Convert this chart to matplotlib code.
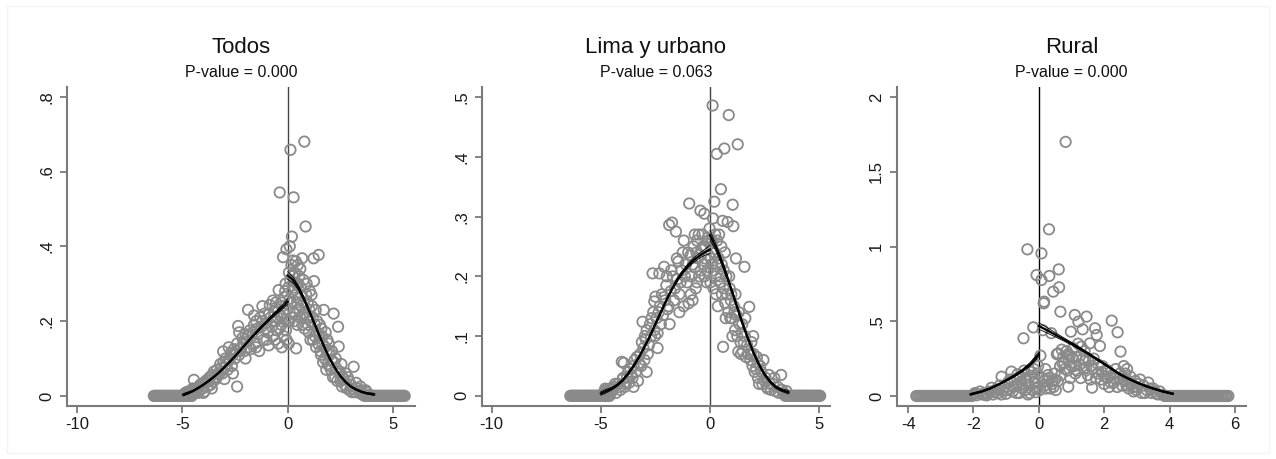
import matplotlib

matplotlib.use("Agg")
import matplotlib.pyplot as plt  # noqa: E402
from matplotlib.patches import Rectangle  # noqa: E402

plt.rcParams["font.family"] = ["Liberation Sans", "DejaVu Sans"]
plt.rcParams["axes.unicode_minus"] = False

# ---------------- data: Todos ----------------
todos_left = [
    (-4.95, 0.002), (-4.85, 0.008), (-4.75, 0.004), (-4.7, 0.012), (-4.6, 0.006),
    (-4.55, 0.015), (-4.45, 0.043), (-4.4, 0.01), (-4.3, 0.02), (-4.25, 0.008),
    (-4.15, 0.03), (-4.1, 0.018), (-4.0, 0.035), (-3.95, 0.012), (-3.85, 0.042),
    (-3.8, 0.025), (-3.7, 0.05), (-3.65, 0.03), (-3.55, 0.038), (-3.5, 0.065),
    (-3.4, 0.045), (-3.35, 0.07), (-3.25, 0.058), (-3.2, 0.085), (-3.1, 0.06),
    (-3.06, 0.119), (-3.0, 0.075), (-2.95, 0.1), (-2.85, 0.07), (-2.8, 0.095),
    (-2.7, 0.115), (-2.65, 0.08), (-2.55, 0.125), (-2.5, 0.1), (-2.4, 0.025),
    (-2.4, 0.14), (-2.35, 0.187), (-2.3, 0.11), (-2.2, 0.13), (-2.15, 0.155),
    (-2.05, 0.12), (-2.0, 0.165), (-1.95, 0.145), (-1.88, 0.23), (-1.8, 0.175),
    (-1.75, 0.125), (-1.7, 0.16), (-1.6, 0.19), (-1.55, 0.14), (-1.5, 0.2),
    (-1.4, 0.165), (-1.35, 0.12), (-1.3, 0.21), (-1.25, 0.185), (-1.15, 0.15),
    (-1.1, 0.22), (-1.0, 0.195), (-0.95, 0.17), (-0.9, 0.135), (-0.85, 0.243),
    (-0.8, 0.21), (-0.75, 0.185), (-0.7, 0.16), (-0.65, 0.225), (-0.6, 0.2),
    (-0.55, 0.25), (-0.5, 0.175), (-0.45, 0.14), (-0.43, 0.283), (-0.38, 0.544),
    (-0.35, 0.215), (-0.3, 0.19), (-0.25, 0.24), (-0.22, 0.371), (-0.2, 0.16),
    (-0.15, 0.265), (-0.1, 0.205), (-0.06, 0.392), (-0.05, 0.15), (-0.02, 0.23),
    (-4.9, 0.005), (-4.8, 0.01), (-4.65, 0.003), (-4.5, 0.02), (-4.35, 0.015),
    (-4.2, 0.025), (-4.05, 0.02), (-3.9, 0.035), (-3.75, 0.04), (-3.6, 0.055),
    (-3.45, 0.05), (-3.3, 0.06), (-3.15, 0.075), (-3.05, 0.09), (-2.9, 0.085),
    (-2.75, 0.1), (-2.6, 0.11), (-2.45, 0.12), (-2.25, 0.125), (-2.1, 0.14),
    (-1.9, 0.16), (-1.85, 0.13), (-1.65, 0.17), (-1.45, 0.18), (-1.2, 0.2),
    (-1.05, 0.18), (-0.88, 0.22), (-0.72, 0.2), (-0.58, 0.235), (-0.48, 0.21),
    (-0.4, 0.18), (-0.32, 0.25), (-0.18, 0.22), (-0.12, 0.28), (-0.08, 0.175),
    (-3.6, 0.02), (-2.6, 0.06), (-2.0, 0.1), (-1.5, 0.13), (-1.0, 0.15),
    (-0.6, 0.15), (-0.28, 0.13), (-4.0, 0.008), (-3.0, 0.045), (-2.8, 0.13),
    (-2.3, 0.17), (-1.6, 0.215), (-1.2, 0.24), (-0.7, 0.255), (-0.1, 0.3),
]
todos_right = [
    (0.03, 0.29), (0.05, 0.14), (0.08, 0.2), (0.1, 0.4), (0.12, 0.31),
    (0.13, 0.658), (0.15, 0.25), (0.18, 0.35), (0.2, 0.426), (0.22, 0.28),
    (0.25, 0.362), (0.28, 0.531), (0.3, 0.22), (0.33, 0.33), (0.36, 0.27),
    (0.4, 0.127), (0.42, 0.3), (0.45, 0.19), (0.48, 0.35), (0.52, 0.26),
    (0.55, 0.32), (0.58, 0.21), (0.62, 0.29), (0.65, 0.24), (0.68, 0.368),
    (0.72, 0.22), (0.75, 0.31), (0.79, 0.68), (0.8, 0.18), (0.85, 0.453),
    (0.88, 0.27), (0.92, 0.21), (0.95, 0.25), (1.0, 0.17), (1.05, 0.28),
    (1.1, 0.2), (1.15, 0.24), (1.2, 0.15), (1.23, 0.368), (1.25, 0.307),
    (1.3, 0.19), (1.35, 0.13), (1.4, 0.2), (1.47, 0.377), (1.5, 0.16),
    (1.55, 0.12), (1.6, 0.18), (1.65, 0.14), (1.71, 0.23), (1.75, 0.1),
    (1.8, 0.17), (1.85, 0.12), (1.9, 0.085), (1.95, 0.14), (2.0, 0.11),
    (2.05, 0.07), (2.1, 0.12), (2.18, 0.22), (2.2, 0.09), (2.25, 0.05),
    (2.3, 0.075), (2.39, 0.185), (2.42, 0.132), (2.45, 0.06), (2.5, 0.04),
    (2.55, 0.085), (2.6, 0.05), (2.7, 0.03), (2.75, 0.06), (2.8, 0.02),
    (2.9, 0.04), (2.95, 0.015), (3.0, 0.03), (3.1, 0.02), (3.13, 0.078),
    (3.2, 0.01), (3.3, 0.02), (3.4, 0.008), (3.5, 0.015), (3.6, 0.005),
    (3.75, 0.01), (3.9, 0.003),
    (0.02, 0.2), (0.06, 0.33), (0.1, 0.26), (0.17, 0.21), (0.24, 0.32),
    (0.3, 0.29), (0.35, 0.2), (0.38, 0.36), (0.44, 0.25), (0.5, 0.3),
    (0.56, 0.23), (0.6, 0.34), (0.66, 0.27), (0.7, 0.19), (0.77, 0.25),
    (0.83, 0.22), (0.9, 0.3), (0.97, 0.19), (1.03, 0.23), (1.08, 0.15),
    (1.13, 0.27), (1.18, 0.21), (1.28, 0.16), (1.33, 0.23), (1.38, 0.17),
    (1.43, 0.14), (1.53, 0.19), (1.58, 0.11), (1.63, 0.16), (1.68, 0.09),
    (1.78, 0.13), (1.83, 0.07), (1.88, 0.15), (1.98, 0.08), (2.08, 0.095),
    (2.15, 0.05), (2.28, 0.1), (2.35, 0.04), (2.48, 0.065), (2.58, 0.025),
    (2.65, 0.045), (2.85, 0.05), (3.05, 0.01), (3.25, 0.035), (3.45, 0.025),
    (3.55, 0.003), (3.7, 0.015),
]
todos_zero_x = [
    -6.35, -6.3, -6.25, -6.2, -6.15, -6.1, -6.05, -6.0, -5.95, -5.9,
    -5.85, -5.8, -5.75, -5.7, -5.65, -5.6, -5.55, -5.5, -5.45, -5.4,
    -5.35, -5.3, -5.25, -5.2, -5.15, -5.1, -5.05, -5.0, -4.95, -4.9,
    -4.85, -4.8, -4.75, -4.7, -4.65, -4.6, -4.55,
    3.65, 3.7, 3.75, 3.8, 3.85, 3.9, 3.95, 4.0, 4.05, 4.1,
    4.15, 4.2, 4.25, 4.3, 4.35, 4.4, 4.45, 4.5, 4.55, 4.6,
    4.65, 4.7, 4.75, 4.8, 4.85, 4.9, 4.95, 5.0, 5.05, 5.1,
    5.15, 5.2, 5.25, 5.3, 5.35, 5.4, 5.45, 5.5, 5.55,
]
todos_fit_left_x = [-4.96, -4.75, -4.5, -4.25, -4.0, -3.75, -3.5, -3.25, -3.0, -2.75, -2.5,
                    -2.25, -2.0, -1.75, -1.5, -1.25, -1.0, -0.75, -0.5, -0.25, 0.0]
todos_fit_left_y = [0.003, 0.007, 0.013, 0.021, 0.03, 0.04, 0.051, 0.063, 0.077, 0.091, 0.106,
                    0.122, 0.138, 0.154, 0.169, 0.184, 0.198, 0.212, 0.225, 0.238, 0.252]
todos_band_left = [0.003, 0.003, 0.002, 0.002, 0.002, 0.002, 0.002, 0.002, 0.002, 0.002, 0.002,
                   0.002, 0.002, 0.002, 0.003, 0.003, 0.003, 0.004, 0.005, 0.006, 0.008]
todos_fit_right_x = [0.0, 0.25, 0.5, 0.75, 1.0, 1.25, 1.5, 1.75, 2.0, 2.25, 2.5, 2.75,
                     3.0, 3.25, 3.5, 3.75, 4.1]
todos_fit_right_y = [0.322, 0.31, 0.29, 0.262, 0.23, 0.196, 0.162, 0.129, 0.099, 0.074, 0.053,
                     0.037, 0.025, 0.017, 0.011, 0.007, 0.004]
todos_band_right = [0.01, 0.008, 0.006, 0.005, 0.004, 0.004, 0.003, 0.003, 0.003, 0.002, 0.002,
                    0.002, 0.002, 0.002, 0.002, 0.002, 0.003]

# ---------------- data: Lima y urbano ----------------
lima_left = [
    (-4.95, 0.002), (-4.85, 0.006), (-4.75, 0.01), (-4.7, 0.004), (-4.6, 0.012),
    (-4.5, 0.007), (-4.4, 0.015), (-4.3, 0.005), (-4.2, 0.02), (-4.1, 0.01),
    (-4.04, 0.057), (-4.0, 0.028), (-3.95, 0.055), (-3.9, 0.015), (-3.8, 0.032),
    (-3.7, 0.022), (-3.65, 0.045), (-3.55, 0.03), (-3.5, 0.05), (-3.4, 0.04),
    (-3.35, 0.065), (-3.3, 0.025), (-3.2, 0.07), (-3.15, 0.05), (-3.09, 0.124),
    (-3.05, 0.08), (-3.0, 0.06), (-2.95, 0.095), (-2.9, 0.11), (-2.8, 0.085),
    (-2.75, 0.12), (-2.7, 0.1), (-2.63, 0.205), (-2.6, 0.14), (-2.55, 0.158),
    (-2.5, 0.166), (-2.45, 0.13), (-2.4, 0.105), (-2.32, 0.205), (-2.3, 0.15),
    (-2.2, 0.17), (-2.15, 0.135), (-2.1, 0.216), (-2.05, 0.16), (-2.0, 0.185),
    (-1.95, 0.145), (-1.87, 0.286), (-1.8, 0.175), (-1.74, 0.29), (-1.7, 0.2),
    (-1.65, 0.16), (-1.56, 0.275), (-1.5, 0.195), (-1.45, 0.225), (-1.4, 0.17),
    (-1.3, 0.21), (-1.25, 0.24), (-1.2, 0.15), (-1.1, 0.22), (-1.05, 0.19),
    (-0.95, 0.322), (-0.9, 0.235), (-0.85, 0.2), (-0.8, 0.16), (-0.75, 0.25),
    (-0.7, 0.215), (-0.65, 0.18), (-0.6, 0.26), (-0.55, 0.23), (-0.5, 0.2),
    (-0.44, 0.31), (-0.4, 0.245), (-0.35, 0.27), (-0.3, 0.22), (-0.26, 0.305),
    (-0.2, 0.25), (-0.15, 0.19), (-0.1, 0.265), (-0.05, 0.235), (-0.02, 0.28),
    (-4.9, 0.004), (-4.8, 0.012), (-4.65, 0.008), (-4.45, 0.01), (-4.35, 0.02),
    (-4.15, 0.015), (-3.98, 0.03), (-3.85, 0.02), (-3.75, 0.04), (-3.6, 0.035),
    (-3.45, 0.06), (-3.25, 0.055), (-3.12, 0.09), (-2.98, 0.1), (-2.85, 0.07),
    (-2.68, 0.13), (-2.52, 0.1), (-2.35, 0.14), (-2.25, 0.12), (-2.12, 0.165),
    (-1.98, 0.2), (-1.9, 0.15), (-1.78, 0.21), (-1.6, 0.18), (-1.52, 0.23),
    (-1.35, 0.19), (-1.15, 0.2), (-1.0, 0.24), (-0.88, 0.17), (-0.78, 0.22),
    (-0.62, 0.24), (-0.52, 0.27), (-0.42, 0.21), (-0.32, 0.25), (-0.22, 0.23),
    (-0.12, 0.21), (-0.08, 0.26), (-3.5, 0.015), (-2.9, 0.04), (-2.4, 0.08),
    (-1.85, 0.12), (-1.4, 0.14), (-0.98, 0.155), (-0.6, 0.19), (-0.25, 0.2),
    (-2.55, 0.11), (-1.2, 0.26), (-0.7, 0.27),
]
lima_right = [
    (0.02, 0.19), (0.05, 0.255), (0.08, 0.22), (0.12, 0.486), (0.14, 0.297),
    (0.16, 0.18), (0.2, 0.325), (0.22, 0.24), (0.26, 0.2), (0.31, 0.405),
    (0.33, 0.26), (0.36, 0.15), (0.4, 0.23), (0.45, 0.19), (0.5, 0.346),
    (0.52, 0.25), (0.55, 0.17), (0.58, 0.293), (0.6, 0.082), (0.63, 0.21),
    (0.66, 0.414), (0.7, 0.155), (0.75, 0.2), (0.81, 0.291), (0.84, 0.14),
    (0.86, 0.47), (0.9, 0.18), (0.95, 0.16), (1.0, 0.13), (1.04, 0.32),
    (1.07, 0.284), (1.1, 0.15), (1.15, 0.11), (1.19, 0.23), (1.22, 0.135),
    (1.27, 0.421), (1.3, 0.074), (1.35, 0.12), (1.4, 0.09), (1.45, 0.105),
    (1.5, 0.075), (1.58, 0.216), (1.6, 0.1), (1.65, 0.065), (1.7, 0.085),
    (1.8, 0.149), (1.85, 0.06), (1.9, 0.09), (1.95, 0.05), (2.0, 0.07),
    (2.1, 0.045), (2.15, 0.065), (2.2, 0.03), (2.3, 0.05), (2.4, 0.02),
    (2.45, 0.06), (2.5, 0.025), (2.6, 0.015), (2.7, 0.035), (2.8, 0.01),
    (2.9, 0.02), (3.0, 0.008), (3.1, 0.015), (3.26, 0.035), (3.35, 0.005),
    (3.5, 0.008),
    (0.04, 0.23), (0.1, 0.26), (0.18, 0.21), (0.24, 0.27), (0.28, 0.17),
    (0.35, 0.22), (0.42, 0.27), (0.48, 0.2), (0.54, 0.22), (0.62, 0.18),
    (0.68, 0.24), (0.72, 0.13), (0.78, 0.17), (0.88, 0.2), (0.93, 0.13),
    (0.98, 0.17), (1.03, 0.1), (1.12, 0.14), (1.17, 0.17), (1.25, 0.1),
    (1.32, 0.14), (1.42, 0.07), (1.48, 0.12), (1.55, 0.09), (1.62, 0.13),
    (1.75, 0.07), (1.88, 0.07), (1.98, 0.1), (2.05, 0.04), (2.18, 0.055),
    (2.25, 0.02), (2.35, 0.04), (2.55, 0.03), (2.65, 0.012), (2.75, 0.02),
    (2.95, 0.03), (3.15, 0.005), (3.3, 0.01),
]
lima_zero_x = [
    -6.4, -6.35, -6.3, -6.25, -6.2, -6.15, -6.1, -6.05, -6.0, -5.95,
    -5.9, -5.85, -5.8, -5.75, -5.7, -5.65, -5.6, -5.55, -5.5, -5.45,
    -5.4, -5.35, -5.3, -5.25, -5.2, -5.15, -5.1, -5.05, -5.0, -4.95,
    -4.9, -4.85, -4.8, -4.75, -4.7, -4.65, -4.6,
    3.45, 3.5, 3.55, 3.6, 3.65, 3.7, 3.75, 3.8, 3.85, 3.9,
    3.95, 4.0, 4.05, 4.1, 4.15, 4.2, 4.25, 4.3, 4.35, 4.4,
    4.45, 4.5, 4.55, 4.6, 4.65, 4.7, 4.75, 4.8, 4.85, 4.9,
    4.95, 5.0, 5.05,
]
lima_fit_left_x = [-5.0, -4.75, -4.5, -4.25, -4.0, -3.75, -3.5, -3.25, -3.0, -2.75, -2.5,
                   -2.25, -2.0, -1.75, -1.5, -1.25, -1.0, -0.75, -0.5, -0.25, 0.0]
lima_fit_left_y = [0.004, 0.008, 0.012, 0.018, 0.026, 0.037, 0.05, 0.065, 0.082, 0.1, 0.12,
                   0.14, 0.16, 0.178, 0.194, 0.207, 0.218, 0.227, 0.234, 0.24, 0.245]
lima_band_left = [0.003, 0.003, 0.002, 0.002, 0.002, 0.002, 0.002, 0.002, 0.002, 0.002, 0.002,
                  0.002, 0.002, 0.002, 0.003, 0.003, 0.003, 0.004, 0.004, 0.005, 0.007]
lima_fit_right_x = [0.0, 0.25, 0.5, 0.75, 1.0, 1.25, 1.5, 1.75, 2.0, 2.25, 2.5, 2.75,
                    3.0, 3.25, 3.6]
lima_fit_right_y = [0.269, 0.25, 0.228, 0.203, 0.176, 0.148, 0.12, 0.095, 0.072, 0.052, 0.036,
                    0.024, 0.015, 0.01, 0.006]
lima_band_right = [0.008, 0.006, 0.005, 0.004, 0.003, 0.003, 0.003, 0.002, 0.002, 0.002, 0.002,
                   0.002, 0.002, 0.002, 0.003]

# ---------------- data: Rural ----------------
rural_left = [
    (-2.0, 0.01), (-1.9, 0.005), (-1.8, 0.03), (-1.75, 0.012), (-1.65, 0.02),
    (-1.6, 0.004), (-1.5, 0.03), (-1.45, 0.055), (-1.4, 0.01), (-1.3, 0.045),
    (-1.25, 0.02), (-1.2, 0.07), (-1.14, 0.129), (-1.1, 0.035), (-1.05, 0.06),
    (-1.0, 0.015), (-0.95, 0.09), (-0.9, 0.05), (-0.84, 0.163), (-0.8, 0.03),
    (-0.75, 0.11), (-0.7, 0.07), (-0.65, 0.145), (-0.6, 0.02), (-0.55, 0.095),
    (-0.5, 0.05), (-0.47, 0.386), (-0.45, 0.17), (-0.4, 0.12), (-0.35, 0.981),
    (-0.33, 0.01), (-0.3, 0.075), (-0.25, 0.135), (-0.2, 0.04), (-0.17, 0.459),
    (-0.15, 0.18), (-0.12, 0.09), (-0.1, 0.025), (-0.07, 0.809), (-0.05, 0.15),
    (-0.03, 0.06),
    (-1.95, 0.02), (-1.7, 0.01), (-1.55, 0.015), (-1.35, 0.025), (-1.15, 0.01),
    (-0.98, 0.04), (-0.88, 0.11), (-0.78, 0.06), (-0.68, 0.02), (-0.58, 0.13),
    (-0.52, 0.08), (-0.42, 0.04), (-0.38, 0.1), (-0.28, 0.02), (-0.22, 0.16),
    (-0.13, 0.12), (-0.08, 0.05), (-0.02, 0.2),
]
rural_right = [
    (0.03, 0.04), (0.05, 0.27), (0.08, 0.954), (0.08, 0.776), (0.1, 0.12),
    (0.12, 0.44), (0.15, 0.62), (0.16, 0.631), (0.18, 0.07), (0.2, 0.18),
    (0.25, 0.1), (0.28, 0.14), (0.31, 1.115), (0.32, 0.803), (0.35, 0.05),
    (0.38, 0.42), (0.4, 0.08), (0.44, 0.698), (0.45, 0.06), (0.5, 0.11),
    (0.55, 0.28), (0.59, 0.285), (0.61, 0.847), (0.62, 0.727), (0.65, 0.2),
    (0.66, 0.564), (0.7, 0.31), (0.72, 0.22), (0.75, 0.26), (0.8, 0.18),
    (0.82, 1.70), (0.85, 0.3), (0.9, 0.062), (0.92, 0.24), (0.95, 0.27),
    (0.98, 0.43), (1.0, 0.2), (1.05, 0.32), (1.1, 0.542), (1.12, 0.15),
    (1.15, 0.26), (1.21, 0.497), (1.25, 0.21), (1.3, 0.33), (1.34, 0.446),
    (1.38, 0.18), (1.42, 0.24), (1.46, 0.531), (1.5, 0.14), (1.56, 0.352),
    (1.6, 0.2), (1.63, 0.056), (1.68, 0.25), (1.72, 0.453), (1.77, 0.408),
    (1.8, 0.15), (1.87, 0.334), (1.9, 0.11), (1.95, 0.2), (2.0, 0.08),
    (2.05, 0.17), (2.1, 0.12), (2.15, 0.06), (2.23, 0.504), (2.25, 0.14),
    (2.3, 0.09), (2.35, 0.18), (2.41, 0.426), (2.45, 0.12), (2.5, 0.297),
    (2.55, 0.07), (2.6, 0.2), (2.65, 0.15), (2.7, 0.1), (2.75, 0.05),
    (2.8, 0.13), (2.85, 0.08), (2.9, 0.03), (2.95, 0.1), (3.0, 0.06),
    (3.1, 0.11), (3.15, 0.02), (3.2, 0.07), (3.3, 0.04), (3.35, 0.09),
    (3.45, 0.02), (3.5, 0.05), (3.6, 0.015), (3.7, 0.03), (3.8, 0.008),
    (0.22, 0.05), (0.3, 0.12), (0.42, 0.1), (0.48, 0.15), (0.52, 0.04),
    (0.58, 0.1), (0.68, 0.14), (0.78, 0.22), (0.88, 0.17), (0.96, 0.12),
    (1.02, 0.26), (1.08, 0.2), (1.18, 0.17), (1.28, 0.12), (1.35, 0.25),
    (1.45, 0.19), (1.52, 0.23), (1.58, 0.11), (1.66, 0.18), (1.75, 0.12),
    (1.82, 0.21), (1.92, 0.16), (2.02, 0.13), (2.12, 0.17), (2.2, 0.09),
    (2.32, 0.12), (2.4, 0.06), (2.48, 0.15), (2.58, 0.11), (2.68, 0.07),
    (2.78, 0.09), (2.88, 0.06), (2.98, 0.04), (3.05, 0.08), (3.25, 0.02),
    (3.4, 0.05), (3.55, 0.03), (3.65, 0.01), (1.4, 0.3), (1.2, 0.35),
    (0.9, 0.28), (2.7, 0.18),
]
rural_zero_x = [
    -3.75, -3.7, -3.65, -3.6, -3.55, -3.5, -3.45, -3.4, -3.35, -3.3,
    -3.25, -3.2, -3.15, -3.1, -3.05, -3.0, -2.95, -2.9, -2.85, -2.8,
    -2.75, -2.7, -2.65, -2.6, -2.55, -2.5, -2.45, -2.4, -2.35, -2.3,
    -2.25, -2.2, -2.15, -2.1, -2.05,
    3.85, 3.9, 3.95, 4.0, 4.05, 4.1, 4.15, 4.2, 4.25, 4.3,
    4.35, 4.4, 4.45, 4.5, 4.55, 4.6, 4.65, 4.7, 4.75, 4.8,
    4.85, 4.9, 4.95, 5.0, 5.05, 5.1, 5.15, 5.2, 5.25, 5.3,
    5.35, 5.4, 5.45, 5.5, 5.55, 5.6, 5.65, 5.7, 5.75, 5.8,
]
rural_fit_left_x = [-2.09, -1.75, -1.5, -1.25, -1.0, -0.75, -0.5, -0.25, 0.0]
rural_fit_left_y = [0.011, 0.03, 0.05, 0.075, 0.104, 0.135, 0.17, 0.215, 0.278]
rural_band_left = [0.006, 0.005, 0.005, 0.005, 0.006, 0.007, 0.009, 0.012, 0.016]
rural_fit_right_x = [0.0, 0.25, 0.5, 0.75, 1.0, 1.25, 1.5, 1.75, 2.0, 2.25, 2.5, 2.75,
                     3.0, 3.25, 3.5, 3.75, 4.1]
rural_fit_right_y = [0.468, 0.44, 0.41, 0.38, 0.35, 0.318, 0.285, 0.25, 0.215, 0.178, 0.143,
                     0.115, 0.09, 0.068, 0.05, 0.033, 0.015]
rural_band_right = [0.022, 0.018, 0.014, 0.011, 0.009, 0.008, 0.007, 0.007, 0.006, 0.006, 0.006,
                    0.005, 0.005, 0.005, 0.005, 0.005, 0.006]

titles = ["Todos", "Lima y urbano", "Rural"]
p_values = ["0.000", "0.063", "0.000"]

POINT_COLOR = "#8a8a8a"
AXIS_COLOR = "#7a7a7a"


def draw_panel(ax, left, right, zero_x, fit_l, fit_r, cut_color):
    xs = [p[0] for p in left] + [p[0] for p in right]
    ys = [p[1] for p in left] + [p[1] for p in right]
    ax.axvline(0, color=cut_color, lw=1.0, zorder=1)
    ax.scatter(zero_x, [0] * len(zero_x), s=56, facecolors="none",
               edgecolors=POINT_COLOR, linewidths=1.3, zorder=2)
    ax.scatter(xs, ys, s=56, facecolors="none", edgecolors=POINT_COLOR,
               linewidths=1.3, zorder=2)

    for fx, fy, band in (fit_l, fit_r):
        lo = [y - b for y, b in zip(fy, band)]
        hi = [y + b for y, b in zip(fy, band)]
        ax.plot(fx, lo, color="black", lw=0.6, zorder=3)
        ax.plot(fx, hi, color="black", lw=0.6, zorder=3)
        ax.plot(fx, fy, color="black", lw=1.6, zorder=4)

    for side in ("top", "right"):
        ax.spines[side].set_visible(False)
    for side in ("left", "bottom"):
        ax.spines[side].set_color(AXIS_COLOR)
        ax.spines[side].set_linewidth(1.5)
    ax.tick_params(direction="out", length=5, width=1.3, color=AXIS_COLOR,
                   labelsize=12, labelcolor="#1a1a1a")
    ax.tick_params(axis="x", pad=3)
    ax.tick_params(axis="y", pad=4)


fig = plt.figure(figsize=(12.76, 4.59), dpi=100)
fig.patch.set_facecolor("white")
fig.patches.append(Rectangle((7 / 1276, 6 / 459), 1262 / 1276, 447 / 459,
                             transform=fig.transFigure, fill=False,
                             ec="#f4f4f4", lw=1.0))

bottom = 53 / 459
height = 319 / 459
lefts = [67 / 1276, 481.7 / 1276, 896.7 / 1276]
widths = [348 / 1276, 348.3 / 1276, 349.3 / 1276]
axes = [fig.add_axes([l, bottom, w, height]) for l, w in zip(lefts, widths)]

draw_panel(axes[0], todos_left, todos_right, todos_zero_x,
           (todos_fit_left_x, todos_fit_left_y, todos_band_left),
           (todos_fit_right_x, todos_fit_right_y, todos_band_right), "#444444")
draw_panel(axes[1], lima_left, lima_right, lima_zero_x,
           (lima_fit_left_x, lima_fit_left_y, lima_band_left),
           (lima_fit_right_x, lima_fit_right_y, lima_band_right), "#444444")
draw_panel(axes[2], rural_left, rural_right, rural_zero_x,
           (rural_fit_left_x, rural_fit_left_y, rural_band_left),
           (rural_fit_right_x, rural_fit_right_y, rural_band_right), "black")

# axis limits and ticks (Stata-like labels)
axes[0].set_xlim(-10.47, 6.04)
axes[0].set_ylim(-0.027, 0.826)
axes[0].set_xticks([-10, -5, 0, 5])
axes[0].set_yticks([0, 0.2, 0.4, 0.6, 0.8])
axes[0].set_yticklabels(["0", ".2", ".4", ".6", ".8"], rotation=90, va="center")

axes[1].set_xlim(-10.46, 5.5)
axes[1].set_ylim(-0.017, 0.517)
axes[1].set_xticks([-10, -5, 0, 5])
axes[1].set_yticks([0, 0.1, 0.2, 0.3, 0.4, 0.5])
axes[1].set_yticklabels(["0", ".1", ".2", ".3", ".4", ".5"], rotation=90, va="center")

axes[2].set_xlim(-4.35, 6.34)
axes[2].set_ylim(-0.067, 2.067)
axes[2].set_xticks([-4, -2, 0, 2, 4, 6])
axes[2].set_yticks([0, 0.5, 1, 1.5, 2])
axes[2].set_yticklabels(["0", ".5", "1", "1.5", "2"], rotation=90, va="center")

for ax, title, pv in zip(axes, titles, p_values):
    ax.text(0.5, 1.125, title, transform=ax.transAxes, ha="center", va="center",
            fontsize=16, color="#111111")
    ax.text(0.5, 1.044, f"P-value = {pv}", transform=ax.transAxes, ha="center",
            va="center", fontsize=11.5, color="#111111")

fig.savefig("out.png", dpi=100, facecolor="white")
